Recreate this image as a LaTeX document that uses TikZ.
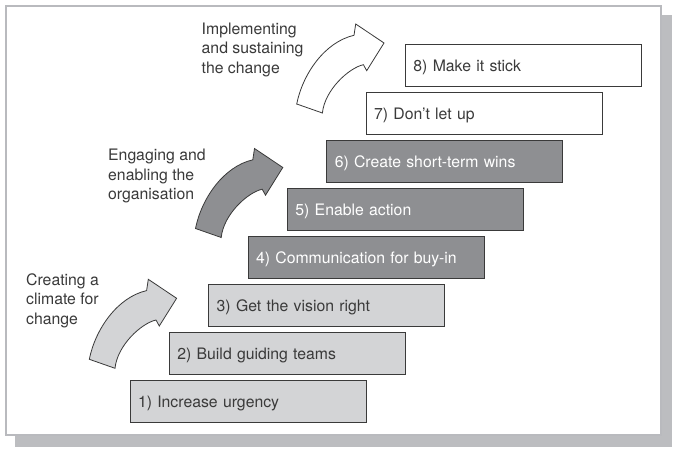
\documentclass[tikz,border=0pt]{standalone}
\usepackage{fontspec}
\setmainfont{TeX Gyre Heros}
\usepackage{xcolor}
\usepackage{tikz}
\usetikzlibrary{positioning}

\definecolor{lightstep}{RGB}{211,212,214}
\definecolor{darkstep}{RGB}{142,143,146}
\definecolor{framegray}{RGB}{185,186,190}
\definecolor{shadowgray}{RGB}{188,189,192}
\definecolor{inkgray}{RGB}{58,58,58}

\begin{document}
\begin{tikzpicture}[x=1pt, y=1pt,
			stepbox/.style={draw=inkgray, line width=1pt, rectangle, minimum width=236pt, minimum height=41.5pt, text width=220pt, inner xsep=8pt, align=left, text height=11.3pt, text depth=0pt, text=inkgray, font=\fontsize{15.8pt}{19.5pt}\selectfont, on grid, node distance={48pt and 39.35pt}},
			phase/.style={anchor=north west, align=left, inner sep=0pt, text=inkgray, font=\fontsize{15.8pt}{19.5pt}\selectfont},
			bentarrow/.pic={\draw[pic actions, draw=inkgray, line width=0.8pt, line join=miter] (0,0) .. controls (6,30) and (28,62) .. (57.3,68.7) -- (59,80) -- (87.3,61) -- (70,33.3) -- (66.7,39.3) .. controls (52,36) and (28,14) .. (25.7,-9) -- cycle;}
			]
			\useasboundingbox (0,0) rectangle (676,452);
			\fill[shadowgray] (15,5) rectangle (672,437);
			\draw[framegray, line width=2pt, fill=white] (6,17) rectangle (661,446);
			
			\node [stepbox, fill=lightstep](s1) at (248,50.5) {1) Increase urgency};
			\node [stepbox, fill=lightstep](s2) [above right=of s1] {2) Build guiding teams};
			\node [stepbox, fill=lightstep](s3) [above right=of s2] {3) Get the vision right};
			\node [stepbox, fill=darkstep, text=white](s4) [above right=of s3] {4) Communication for buy-in};
			\node [stepbox, fill=darkstep, text=white](s5) [above right=of s4] {5) Enable action};
			\node [stepbox, fill=darkstep, text=white](s6) [above right=of s5] {6) Create short-term wins};
			\node [stepbox, fill=white](s7) [above right=of s6] {7) Don’t let up};
			\node [stepbox, fill=white](s8) [above right=of s7] {8) Make it stick};
			
			\node [phase](p1) at (26,178.7) {Creating a\\climate for\\change};
			\node [phase](p2) at (108,303.2) {Engaging and\\enabling the\\organisation};
			\node [phase](p3) at (201.5,429.3) {Implementing\\and sustaining\\the change};
			
			\coordinate (a1) at (89.3,92.7);
			\coordinate (a2) at (195.5,223.5);
			\coordinate (a3) at (296.7,348);
			
			\pic [fill=lightstep] at (a1) {bentarrow};
			\pic [fill=darkstep] at (a2) {bentarrow};
			\pic [fill=white] at (a3) {bentarrow};
		\end{tikzpicture}
\end{document}
